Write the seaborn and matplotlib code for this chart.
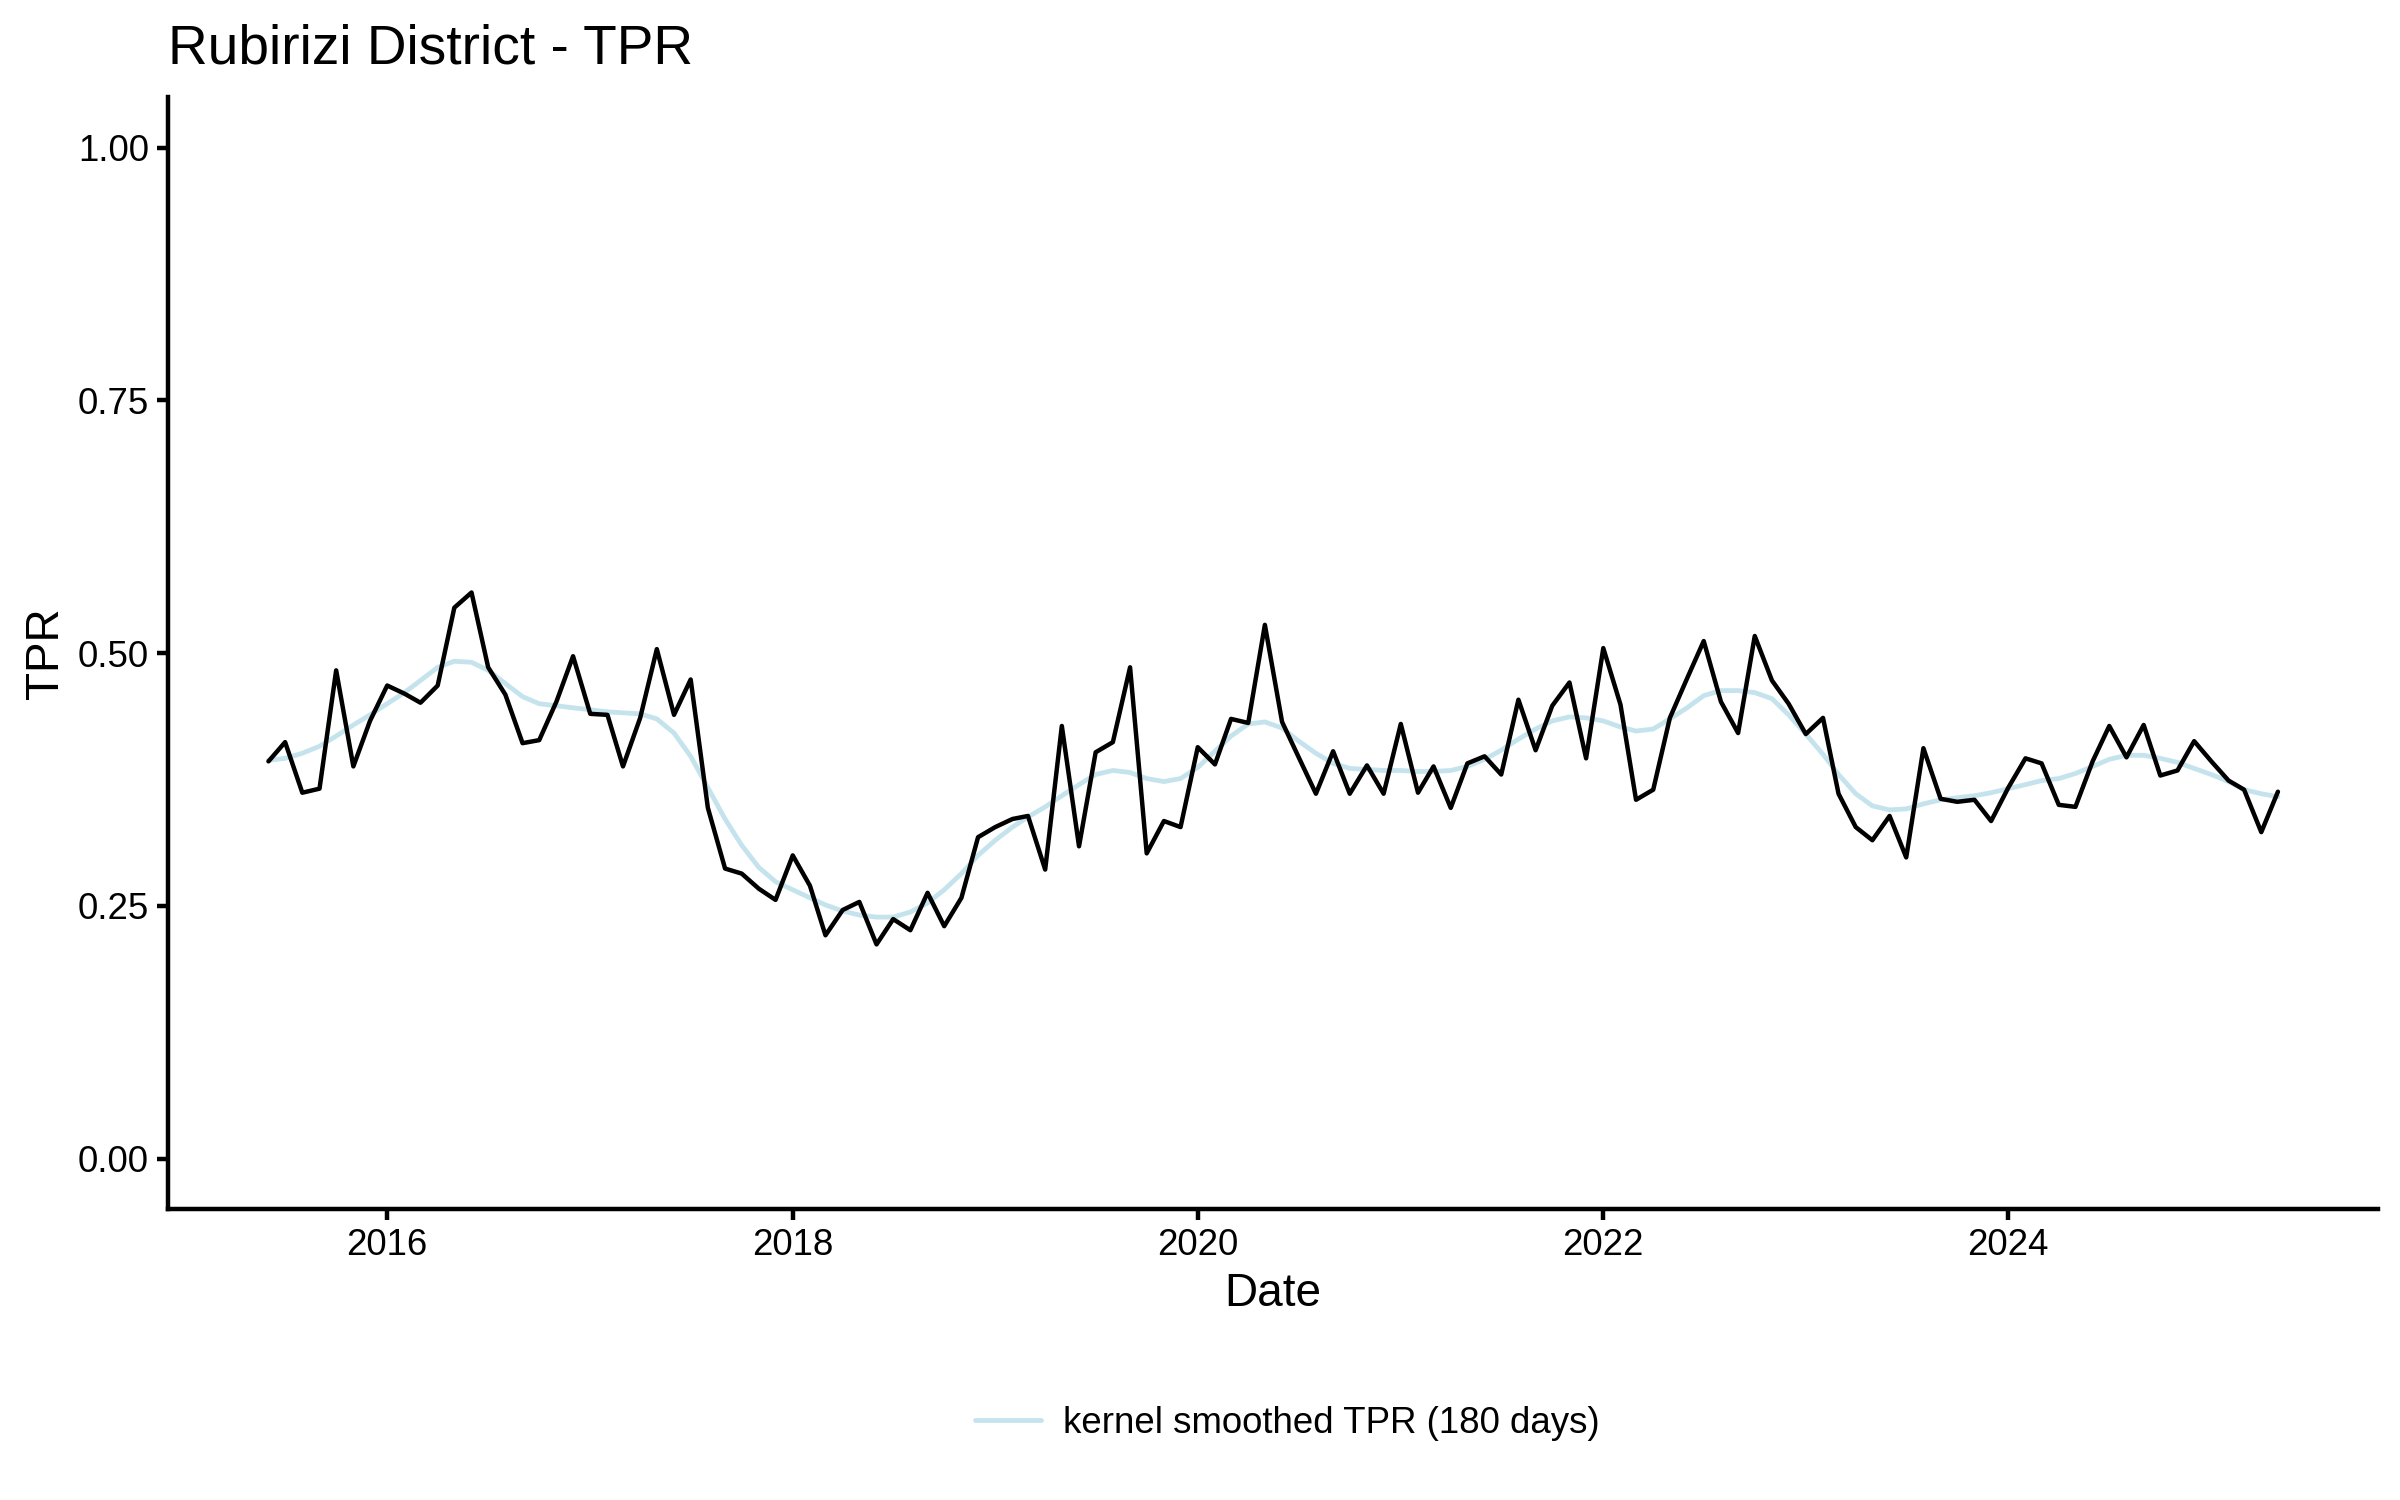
import matplotlib
matplotlib.use("Agg")
import matplotlib.pyplot as plt
import matplotlib.dates as mdates
import pandas as pd
import seaborn as sns

# monthly test positivity rate, Jun 2015 - May 2025
start_month = "2015-06-01"

tpr = [
    0.393, 0.412, 0.362, 0.366, 0.483, 0.388, 0.433,
    0.468, 0.460, 0.451, 0.468, 0.545, 0.560, 0.486, 0.459, 0.411, 0.414, 0.452, 0.497,
    0.440, 0.439, 0.388, 0.436, 0.504, 0.439, 0.474, 0.347, 0.287, 0.282, 0.267, 0.256,
    0.300, 0.270, 0.221, 0.246, 0.254, 0.212, 0.237, 0.226, 0.263, 0.230, 0.258, 0.318,
    0.328, 0.336, 0.339, 0.286, 0.428, 0.309, 0.402, 0.412, 0.486, 0.302, 0.334, 0.328,
    0.407, 0.390, 0.435, 0.431, 0.528, 0.432, 0.397, 0.361, 0.403, 0.361, 0.389, 0.361,
    0.430, 0.362, 0.388, 0.347, 0.391, 0.398, 0.380, 0.454, 0.404, 0.448, 0.471, 0.396,
    0.505, 0.449, 0.355, 0.365, 0.436, 0.475, 0.512, 0.452, 0.421, 0.517, 0.473, 0.450,
    0.420, 0.436, 0.361, 0.328, 0.315, 0.339, 0.298, 0.406, 0.356, 0.353, 0.355, 0.334,
    0.367, 0.396, 0.391, 0.350, 0.348, 0.393, 0.428, 0.397, 0.429, 0.379, 0.384, 0.413,
    0.393, 0.374, 0.365, 0.323, 0.363,
]

# kernel smoothed TPR (180 days)
tpr_smooth = [
    0.394, 0.396, 0.401, 0.408, 0.418, 0.429, 0.439,
    0.450, 0.461, 0.473, 0.486, 0.492, 0.491, 0.483, 0.470, 0.457, 0.450, 0.448, 0.446,
    0.444, 0.442, 0.441, 0.440, 0.435, 0.421, 0.398, 0.367, 0.336, 0.310, 0.288, 0.274,
    0.266, 0.258, 0.251, 0.245, 0.241, 0.239, 0.239, 0.244, 0.253, 0.266, 0.282, 0.300,
    0.315, 0.328, 0.338, 0.348, 0.359, 0.370, 0.380, 0.384, 0.382, 0.376, 0.373, 0.376,
    0.387, 0.403, 0.418, 0.430, 0.432, 0.426, 0.413, 0.401, 0.391, 0.386, 0.385, 0.384,
    0.384, 0.383, 0.383, 0.384, 0.388, 0.395, 0.404, 0.415, 0.425, 0.433, 0.437, 0.436,
    0.433, 0.427, 0.423, 0.425, 0.435, 0.446, 0.458, 0.463, 0.463, 0.461, 0.455, 0.439,
    0.420, 0.400, 0.380, 0.361, 0.349, 0.345, 0.346, 0.351, 0.355, 0.357, 0.359, 0.362,
    0.366, 0.370, 0.374, 0.376, 0.381, 0.388, 0.395, 0.399, 0.399, 0.396, 0.392, 0.386,
    0.380, 0.373, 0.365, 0.361, 0.358,
]

y_ticks = [0.00, 0.25, 0.50, 0.75, 1.00]

dates = pd.date_range(start_month, periods=len(tpr), freq="MS")
df = pd.DataFrame({"Date": dates, "TPR": tpr, "smooth": tpr_smooth})

sns.set_theme(style="ticks")
plt.rcParams["font.family"] = ["Liberation Sans", "DejaVu Sans"]
plt.rcParams["text.color"] = "black"
plt.rcParams["axes.labelcolor"] = "black"

fig, ax = plt.subplots(figsize=(8, 5), dpi=300)
fig.subplots_adjust(left=0.07, right=0.991, top=0.9353, bottom=0.1938)

sns.lineplot(data=df, x="Date", y="smooth", ax=ax, color="lightblue", alpha=0.7,
             linewidth=1.15, label="kernel smoothed TPR (180 days)", legend=False)
sns.lineplot(data=df, x="Date", y="TPR", ax=ax, color="black", linewidth=1.07,
             legend=False)

# ggplot-ish expansion of 5% on both axes
span = dates[-1] - dates[0]
ax.set_xlim(dates[0] - span * 0.05, dates[-1] + span * 0.05)
ax.set_ylim(-0.05, 1.05)
ax.set_yticks(y_ticks)
ax.set_yticklabels([f"{t:.2f}" for t in y_ticks])
ax.xaxis.set_major_locator(mdates.YearLocator(2))
ax.xaxis.set_major_formatter(mdates.DateFormatter("%Y"))

sns.despine(ax=ax)
for side in ("left", "bottom"):
    ax.spines[side].set_linewidth(1.07)
    ax.spines[side].set_color("black")
ax.tick_params(length=2.75, width=1.07, pad=1.8, labelsize=8.8,
               colors="black", labelcolor="black")

ax.set_xlabel("Date", fontsize=11, labelpad=2, color="black")
ax.set_ylabel("TPR", fontsize=11, labelpad=2.4, color="black")
ax.set_title("Rubirizi District - TPR", loc="left", fontsize=13.2, pad=8, color="black")

handles, labels = ax.get_legend_handles_labels()
leg = fig.legend(handles, labels, loc="center", bbox_to_anchor=(0.5365, 0.051),
                 frameon=False, fontsize=8.8, handlelength=1.8, handletextpad=0.6)
for txt in leg.get_texts():
    txt.set_color("black")

plt.savefig("out.png", dpi=300)
plt.close()
